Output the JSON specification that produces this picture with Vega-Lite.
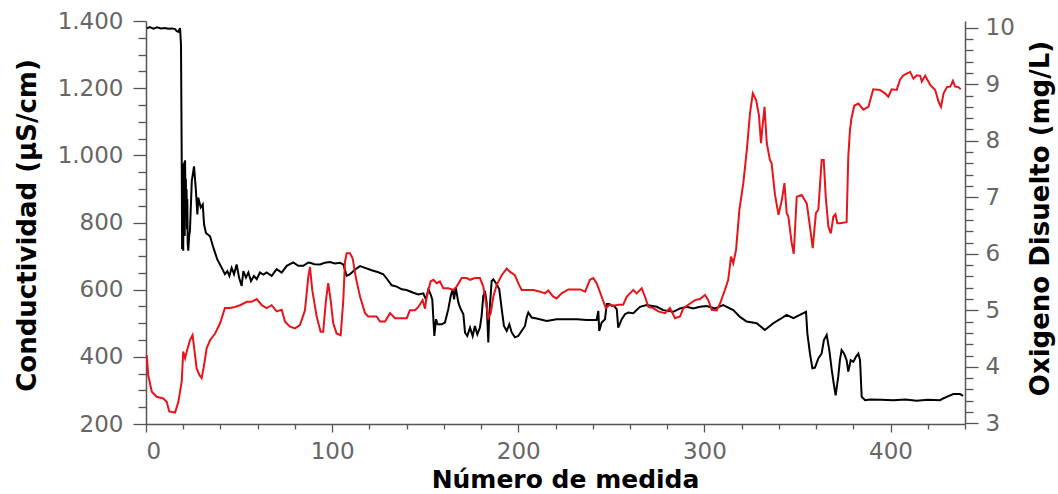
{
  "$schema": "https://vega.github.io/schema/vega-lite/v6.json",
  "width": 819,
  "height": 403,
  "autosize": "none",
  "padding": {"left": 146, "top": 21, "right": 93, "bottom": 70},
  "background": "white",
  "config": {
    "view": {"stroke": null},
    "axis": {
      "grid": false,
      "labelFont": "DejaVu Sans",
      "titleFont": "DejaVu Sans",
      "labelFontSize": 23,
      "labelColor": "#666666",
      "titleFontSize": 26,
      "titleFontWeight": "bold",
      "titleColor": "#000000",
      "domainColor": "#555555",
      "tickColor": "#555555",
      "domainWidth": 1.5,
      "tickWidth": 1.3
    }
  },
  "datasets": {
    "cond": [
      {"x":0.5,"v":1378},{"x":2,"v":1382},{"x":4,"v":1377},{"x":6,"v":1381},{"x":8,"v":1378},{"x":10,"v":1379},{"x":12,"v":1377},{"x":14,"v":1378},{"x":15.6,"v":1376},{"x":16.5,"v":1370},{"x":17.4,"v":1368},{"x":18.3,"v":1379},{"x":18.8,"v":1329},{"x":19.2,"v":985},{"x":19.4,"v":720},{"x":19.6,"v":950},{"x":19.8,"v":880},{"x":20.0,"v":716},{"x":20.2,"v":975},{"x":20.4,"v":900},{"x":20.6,"v":980},{"x":20.8,"v":760},{"x":21.0,"v":985},{"x":21.2,"v":860},{"x":21.4,"v":930},{"x":21.6,"v":830},{"x":21.8,"v":900},{"x":22.0,"v":780},{"x":22.2,"v":870},{"x":22.4,"v":740},{"x":22.7,"v":716},{"x":23.2,"v":760},{"x":23.6,"v":774},{"x":24.6,"v":923},{"x":25.8,"v":967},{"x":26.7,"v":904},{"x":27.6,"v":824},{"x":28.1,"v":874},{"x":29.4,"v":845},{"x":30.5,"v":854},{"x":31.2,"v":794},{"x":32.2,"v":769},{"x":34.4,"v":759},{"x":36.2,"v":725},{"x":38.3,"v":690},{"x":40.7,"v":665},{"x":42.4,"v":646},{"x":43.7,"v":655},{"x":44.8,"v":641},{"x":46.0,"v":665},{"x":47.3,"v":646},{"x":48.7,"v":675},{"x":50.0,"v":636},{"x":51.4,"v":611},{"x":52.3,"v":655},{"x":53.7,"v":636},{"x":55.0,"v":651},{"x":56.4,"v":626},{"x":58.0,"v":641},{"x":59.5,"v":631},{"x":61.2,"v":651},{"x":63,"v":645},{"x":64.8,"v":651},{"x":67.5,"v":641},{"x":70.2,"v":661},{"x":72.9,"v":651},{"x":75.6,"v":671},{"x":79.1,"v":681},{"x":81.8,"v":671},{"x":84.5,"v":671},{"x":87.2,"v":681},{"x":88.1,"v":680},{"x":90.5,"v":676},{"x":93.5,"v":675},{"x":96,"v":680},{"x":98.8,"v":682},{"x":101.5,"v":678},{"x":104.2,"v":680},{"x":106,"v":675},{"x":107.8,"v":641},{"x":109.6,"v":646},{"x":112.3,"v":660},{"x":115,"v":670},{"x":117.7,"v":665},{"x":121.2,"v":658},{"x":124.8,"v":652},{"x":127.5,"v":646},{"x":129.6,"v":631},{"x":132,"v":613},{"x":134.7,"v":609},{"x":137.4,"v":601},{"x":140,"v":599},{"x":143.6,"v":591},{"x":146.3,"v":586},{"x":149,"v":589},{"x":150.4,"v":571},{"x":151.7,"v":601},{"x":152.9,"v":586},{"x":153.8,"v":571},{"x":154.9,"v":462},{"x":155.8,"v":512},{"x":156.7,"v":497},{"x":158.9,"v":497},{"x":160.6,"v":502},{"x":162.4,"v":542},{"x":163.7,"v":581},{"x":164.8,"v":601},{"x":165.5,"v":571},{"x":166.4,"v":606},{"x":167.8,"v":562},{"x":168.7,"v":547},{"x":170.5,"v":527},{"x":171.4,"v":472},{"x":172.6,"v":462},{"x":174.1,"v":487},{"x":175.5,"v":462},{"x":176.7,"v":492},{"x":178,"v":467},{"x":179.4,"v":487},{"x":180.3,"v":522},{"x":181.2,"v":581},{"x":182.1,"v":596},{"x":183,"v":562},{"x":183.9,"v":443},{"x":184.4,"v":522},{"x":185.7,"v":626},{"x":186.6,"v":631},{"x":188.4,"v":616},{"x":189.8,"v":601},{"x":191.1,"v":542},{"x":192.3,"v":492},{"x":193.8,"v":477},{"x":195.2,"v":497},{"x":196.5,"v":472},{"x":198.2,"v":458},{"x":200,"v":462},{"x":201.8,"v":477},{"x":203.6,"v":492},{"x":204.5,"v":517},{"x":205.4,"v":532},{"x":207.2,"v":517},{"x":209.9,"v":514},{"x":215.3,"v":507},{"x":220.6,"v":512},{"x":226,"v":512},{"x":231.4,"v":512},{"x":236.8,"v":510},{"x":242.1,"v":510},{"x":243,"v":537},{"x":243.5,"v":477},{"x":244.8,"v":502},{"x":246.6,"v":512},{"x":247.5,"v":557},{"x":248.9,"v":557},{"x":250.2,"v":552},{"x":251.4,"v":552},{"x":252.9,"v":542},{"x":253.7,"v":487},{"x":255.6,"v":512},{"x":257.3,"v":527},{"x":259.1,"v":532},{"x":261.8,"v":530},{"x":265.4,"v":549},{"x":269,"v":554},{"x":274.4,"v":549},{"x":277.9,"v":539},{"x":283.3,"v":534},{"x":286.9,"v":544},{"x":290.5,"v":549},{"x":294,"v":544},{"x":297.6,"v":549},{"x":301.2,"v":551},{"x":305.7,"v":544},{"x":310.1,"v":554},{"x":315.5,"v":539},{"x":319.1,"v":519},{"x":322.7,"v":505},{"x":328.1,"v":500},{"x":332.5,"v":480},{"x":337,"v":500},{"x":340.6,"v":512},{"x":344.2,"v":525},{"x":347.8,"v":515},{"x":351.3,"v":525},{"x":354.6,"v":534},{"x":355.3,"v":470},{"x":356.7,"v":410},{"x":358,"v":366},{"x":359.4,"v":368},{"x":361.2,"v":395},{"x":363,"v":410},{"x":364.2,"v":450},{"x":365.7,"v":465},{"x":367.1,"v":420},{"x":368.4,"v":361},{"x":369.6,"v":316},{"x":370.5,"v":285},{"x":371.9,"v":341},{"x":372.8,"v":390},{"x":373.7,"v":420},{"x":375,"v":410},{"x":376.4,"v":390},{"x":377.3,"v":356},{"x":378.6,"v":390},{"x":380,"v":385},{"x":381.4,"v":400},{"x":382.7,"v":410},{"x":383.6,"v":390},{"x":384.5,"v":281},{"x":386.3,"v":271},{"x":389,"v":273},{"x":395,"v":272},{"x":401.5,"v":271},{"x":408,"v":273},{"x":414,"v":269},{"x":420,"v":272},{"x":426.6,"v":271},{"x":428.3,"v":276},{"x":430.2,"v":281},{"x":433.7,"v":289},{"x":437.3,"v":289},{"x":439,"v":284}
    ],
    "oxi": [
      {"x":0.4,"o":4.21},{"x":1.2,"o":3.85},{"x":3.1,"o":3.56},{"x":5.7,"o":3.47},{"x":9.3,"o":3.44},{"x":11.1,"o":3.38},{"x":12.5,"o":3.21},{"x":15.6,"o":3.19},{"x":17.4,"o":3.38},{"x":19.2,"o":3.74},{"x":20,"o":4.27},{"x":21,"o":4.15},{"x":21.9,"o":4.27},{"x":23.6,"o":4.47},{"x":25,"o":4.56},{"x":25.9,"o":4.33},{"x":27.2,"o":3.97},{"x":28.6,"o":3.86},{"x":29.9,"o":3.80},{"x":31.2,"o":4.03},{"x":32.6,"o":4.33},{"x":34.4,"o":4.47},{"x":37.1,"o":4.59},{"x":39.8,"o":4.77},{"x":42.4,"o":5.04},{"x":45.1,"o":5.04},{"x":47.8,"o":5.06},{"x":50.5,"o":5.09},{"x":54.1,"o":5.15},{"x":56.8,"o":5.15},{"x":59.5,"o":5.20},{"x":62.2,"o":5.09},{"x":64.8,"o":5.04},{"x":67.5,"o":5.09},{"x":70.2,"o":4.98},{"x":72.9,"o":5.01},{"x":74.7,"o":4.80},{"x":77.4,"o":4.71},{"x":80,"o":4.68},{"x":82.7,"o":4.74},{"x":85.4,"o":5.0},{"x":87.2,"o":5.59},{"x":88.1,"o":5.77},{"x":89.3,"o":5.36},{"x":91.7,"o":4.89},{"x":93.8,"o":4.62},{"x":95.2,"o":4.62},{"x":96.7,"o":5.18},{"x":97.9,"o":5.48},{"x":99.2,"o":5.18},{"x":100.6,"o":4.77},{"x":102.4,"o":4.59},{"x":104.6,"o":4.56},{"x":106,"o":5.18},{"x":106.9,"o":5.86},{"x":107.8,"o":6.01},{"x":109.6,"o":6.01},{"x":111,"o":5.92},{"x":112.8,"o":5.57},{"x":115,"o":5.24},{"x":117.7,"o":4.95},{"x":119.4,"o":4.89},{"x":123.9,"o":4.89},{"x":125.7,"o":4.80},{"x":128.4,"o":4.80},{"x":131.1,"o":4.95},{"x":133.8,"o":4.86},{"x":140.1,"o":4.86},{"x":141.8,"o":5.0},{"x":144.5,"o":5.0},{"x":146.3,"o":5.06},{"x":148.6,"o":5.18},{"x":149.9,"o":5.03},{"x":150.8,"o":5.24},{"x":152.9,"o":5.51},{"x":154.4,"o":5.54},{"x":156.2,"o":5.48},{"x":157.9,"o":5.51},{"x":159.7,"o":5.39},{"x":162.4,"o":5.39},{"x":165.1,"o":5.36},{"x":166.9,"o":5.42},{"x":169.6,"o":5.57},{"x":172.3,"o":5.57},{"x":174.1,"o":5.54},{"x":176.7,"o":5.57},{"x":179.4,"o":5.57},{"x":181.2,"o":5.42},{"x":182.7,"o":5.12},{"x":183.9,"o":4.86},{"x":185.2,"o":4.95},{"x":186.6,"o":5.24},{"x":188.4,"o":5.45},{"x":191.1,"o":5.62},{"x":193.8,"o":5.74},{"x":195.6,"o":5.68},{"x":198.2,"o":5.62},{"x":200,"o":5.48},{"x":201.8,"o":5.36},{"x":208.1,"o":5.36},{"x":211.7,"o":5.33},{"x":214.4,"o":5.30},{"x":216.1,"o":5.35},{"x":218.8,"o":5.24},{"x":220.6,"o":5.21},{"x":223.3,"o":5.30},{"x":226.9,"o":5.37},{"x":233.2,"o":5.37},{"x":235.9,"o":5.33},{"x":238.5,"o":5.54},{"x":240.3,"o":5.57},{"x":242.1,"o":5.48},{"x":244.8,"o":5.24},{"x":247,"o":5.04},{"x":249.3,"o":5.10},{"x":251.1,"o":5.08},{"x":253.7,"o":5.10},{"x":256.4,"o":5.10},{"x":258.2,"o":5.24},{"x":260,"o":5.30},{"x":261.8,"o":5.36},{"x":263.6,"o":5.30},{"x":266.3,"o":5.39},{"x":268.1,"o":5.24},{"x":269.9,"o":5.06},{"x":272.5,"o":5.04},{"x":275.2,"o":4.98},{"x":278.8,"o":4.95},{"x":281.5,"o":5.04},{"x":284.2,"o":4.86},{"x":286.9,"o":4.89},{"x":288.7,"o":5.04},{"x":292.3,"o":5.12},{"x":295,"o":5.18},{"x":297.6,"o":5.20},{"x":300.3,"o":5.27},{"x":302.1,"o":5.18},{"x":303.9,"o":5.01},{"x":306.6,"o":5.0},{"x":308.4,"o":5.12},{"x":311,"o":5.36},{"x":312.8,"o":5.54},{"x":314.3,"o":5.95},{"x":315.5,"o":5.83},{"x":317,"o":6.07},{"x":318.8,"o":6.78},{"x":320.9,"o":7.25},{"x":322.8,"o":7.84},{"x":324.5,"o":8.49},{"x":326,"o":8.84},{"x":327.8,"o":8.72},{"x":329.3,"o":8.45},{"x":330.4,"o":7.96},{"x":331.2,"o":8.25},{"x":332.3,"o":8.60},{"x":333.5,"o":7.96},{"x":335.2,"o":7.66},{"x":336.1,"o":7.60},{"x":337.9,"o":7.05},{"x":339.8,"o":6.69},{"x":341.6,"o":6.95},{"x":343,"o":7.25},{"x":344.2,"o":6.72},{"x":345.1,"o":6.66},{"x":346.9,"o":6.19},{"x":348,"o":6.0},{"x":349.6,"o":7.01},{"x":352.3,"o":7.04},{"x":355,"o":6.89},{"x":356.7,"o":6.48},{"x":358.2,"o":6.10},{"x":359.9,"o":6.72},{"x":361.2,"o":6.78},{"x":363,"o":7.66},{"x":364.1,"o":7.66},{"x":365.2,"o":7.0},{"x":366.6,"o":6.48},{"x":367.9,"o":6.36},{"x":369.3,"o":6.66},{"x":370.4,"o":6.70},{"x":371.4,"o":6.54},{"x":372.8,"o":6.54},{"x":376.4,"o":6.56},{"x":377.3,"o":7.72},{"x":378.2,"o":8.19},{"x":379,"o":8.40},{"x":380.5,"o":8.62},{"x":382.7,"o":8.66},{"x":385.4,"o":8.55},{"x":388.1,"o":8.60},{"x":390.7,"o":8.91},{"x":394.3,"o":8.90},{"x":397,"o":8.84},{"x":398.8,"o":8.78},{"x":400.6,"o":8.91},{"x":403.3,"o":8.90},{"x":405.1,"o":9.08},{"x":406.9,"o":9.16},{"x":409.5,"o":9.20},{"x":410.5,"o":9.22},{"x":412.3,"o":9.10},{"x":414.1,"o":9.16},{"x":415.9,"o":9.15},{"x":416.8,"o":9.05},{"x":418.6,"o":9.15},{"x":421.3,"o":8.99},{"x":424,"o":8.90},{"x":425.8,"o":8.69},{"x":427.1,"o":8.60},{"x":428.5,"o":8.84},{"x":430.3,"o":8.95},{"x":432.1,"o":8.96},{"x":433.5,"o":9.06},{"x":434.7,"o":8.96},{"x":436.5,"o":8.95},{"x":437.7,"o":8.91}
    ]
  },
  "layer": [
    {
      "data": {"name": "cond"},
      "mark": {"type": "line", "color": "#000000", "strokeWidth": 2},
      "encoding": {
        "x": {
          "field": "x", "type": "quantitative",
          "scale": {"domain": [0, 440], "nice": false, "zero": false},
          "axis": {
            "orient": "bottom",
            "values": [0, 100, 200, 300, 400],
            "tickSize": 8,
            "labelPadding": 8,
            "title": "Número de medida",
            "titleFontSize": 25,
            "titleX": 419,
            "titleY": 63,
            "titleAlign": "center",
            "titleBaseline": "alphabetic"
          }
        },
        "y": {
          "field": "v", "type": "quantitative",
          "scale": {"domain": [200, 1400], "nice": false, "zero": false},
          "axis": {
            "orient": "left",
            "values": [200, 400, 600, 800, 1000, 1200, 1400],
            "labelExpr": "replace(format(datum.value, ','), ',', '.')",
            "tickSize": 13,
            "labelPadding": 10,
            "title": "Conductividad (µS/cm)",
            "titleAngle": 270,
            "titleX": -111,
            "titleY": 204,
            "titleAlign": "center",
            "titleBaseline": "alphabetic"
          }
        }
      }
    },
    {
      "data": {"name": "cond"},
      "mark": {"type": "line", "color": "#000000", "strokeOpacity": 0},
      "encoding": {
        "x": {
          "field": "x", "type": "quantitative",
          "scale": {"domain": [0, 440], "nice": false, "zero": false},
          "axis": {
            "orient": "bottom",
            "values": [20, 40, 60, 80, 120, 140, 160, 180, 220, 240, 260, 280, 320, 340, 360, 380, 420, 440],
            "tickSize": 5, "labels": false, "domain": false, "title": null
          }
        },
        "y": {
          "field": "v", "type": "quantitative",
          "scale": {"domain": [200, 1400], "nice": false, "zero": false},
          "axis": {
            "orient": "left",
            "values": [250, 300, 350, 450, 500, 550, 650, 700, 750, 850, 900, 950, 1050, 1100, 1150, 1250, 1300, 1350],
            "tickSize": 8, "labels": false, "domain": false, "title": null
          }
        }
      }
    },
    {
      "data": {"name": "oxi"},
      "mark": {"type": "line", "color": "#e8141b", "strokeOpacity": 0},
      "encoding": {
        "x": {
          "field": "x", "type": "quantitative",
          "scale": {"domain": [0, 440], "nice": false, "zero": false},
          "axis": null
        },
        "y": {
          "field": "o", "type": "quantitative",
          "scale": {"domain": [2.988, 10.12], "nice": false, "zero": false},
          "axis": {
            "orient": "right",
            "values": [3.2, 3.4, 3.6, 3.8, 4.2, 4.4, 4.6, 4.8, 5.2, 5.4, 5.6, 5.8, 6.2, 6.4, 6.6, 6.8, 7.2, 7.4, 7.6, 7.8, 8.2, 8.4, 8.6, 8.8, 9.2, 9.4, 9.6, 9.8],
            "tickSize": 8, "labels": false, "domain": false, "title": null
          }
        }
      }
    },
    {
      "data": {"name": "oxi"},
      "mark": {"type": "line", "color": "#e8141b", "strokeWidth": 2},
      "encoding": {
        "x": {
          "field": "x", "type": "quantitative",
          "scale": {"domain": [0, 440], "nice": false, "zero": false},
          "axis": null
        },
        "y": {
          "field": "o", "type": "quantitative",
          "scale": {"domain": [2.988, 10.12], "nice": false, "zero": false},
          "axis": {
            "orient": "right",
            "values": [3, 4, 5, 6, 7, 8, 9, 10],
            "tickSize": 13,
            "labelPadding": 7,
            "title": "Oxigeno Disuelto (mg/L)",
            "titleAngle": 270,
            "titleX": 83,
            "titleY": 197,
            "titleAlign": "center",
            "titleBaseline": "alphabetic"
          }
        }
      }
    }
  ],
  "resolve": {"scale": {"x": "independent", "y": "independent"}}
}
